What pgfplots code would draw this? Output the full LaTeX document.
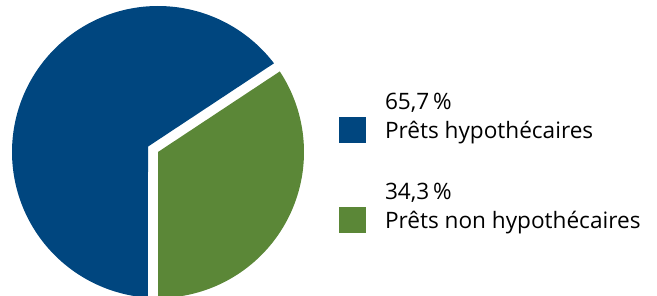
\documentclass[border=0pt]{standalone}
\usepackage{pgfplots}
\pgfplotsset{compat=1.18}
\usepackage{fontspec}
\setmainfont{Open Sans}
\definecolor{pblue}{HTML}{00467F}
\definecolor{pgreen}{HTML}{5B8737}
% shares in percent
\def\vA{65.7}
\def\vB{34.3}
\begin{document}
\begin{tikzpicture}
\pgfmathsetmacro{\aSplit}{-90+3.6*\vB}
\pgfmathsetmacro{\bStart}{\aSplit+3.93}
\pgfmathsetmacro{\bEnd}{-90+360-3.93}
\begin{axis}[scale only axis, width=657pt, height=296pt,
  xmin=0, xmax=657, ymin=0, ymax=296, hide axis,
  legend style={at={(axis cs:339,206.1)}, anchor=north west, draw=none, fill=none,
    inner sep=0pt, outer sep=0pt, column sep=19pt, row sep=36pt,
    font=\fontsize{22.6}{28.7}\selectfont,
    nodes={inner sep=0pt, outer sep=0pt}, cells={anchor=base west}},
  legend image code/.code={\fill[#1] (0pt,-4.7pt) rectangle (27pt,21.3pt);},
]
\addplot[draw=none, fill=pblue, domain=\bStart:\bEnd, samples=200, variable=\t]
  ({158+146*cos(t)},{144+146*sin(t)}) -- (axis cs:148,149.4) -- cycle;
\addlegendentry{\begin{tabular}[b]{@{}l@{}}65,7\,\%\\Prêts hypothécaires\end{tabular}}
\addplot[draw=none, fill=pgreen, domain=-90:\aSplit, samples=120, variable=\t]
  ({158+146*cos(t)},{144+146*sin(t)}) -- (axis cs:158,144) -- cycle;
\addlegendentry{\begin{tabular}[b]{@{}l@{}}34,3\,\%\\Prêts non hypothécaires\end{tabular}}
\end{axis}
\path (current axis.south west) rectangle (current axis.north east);
\end{tikzpicture}
\end{document}
